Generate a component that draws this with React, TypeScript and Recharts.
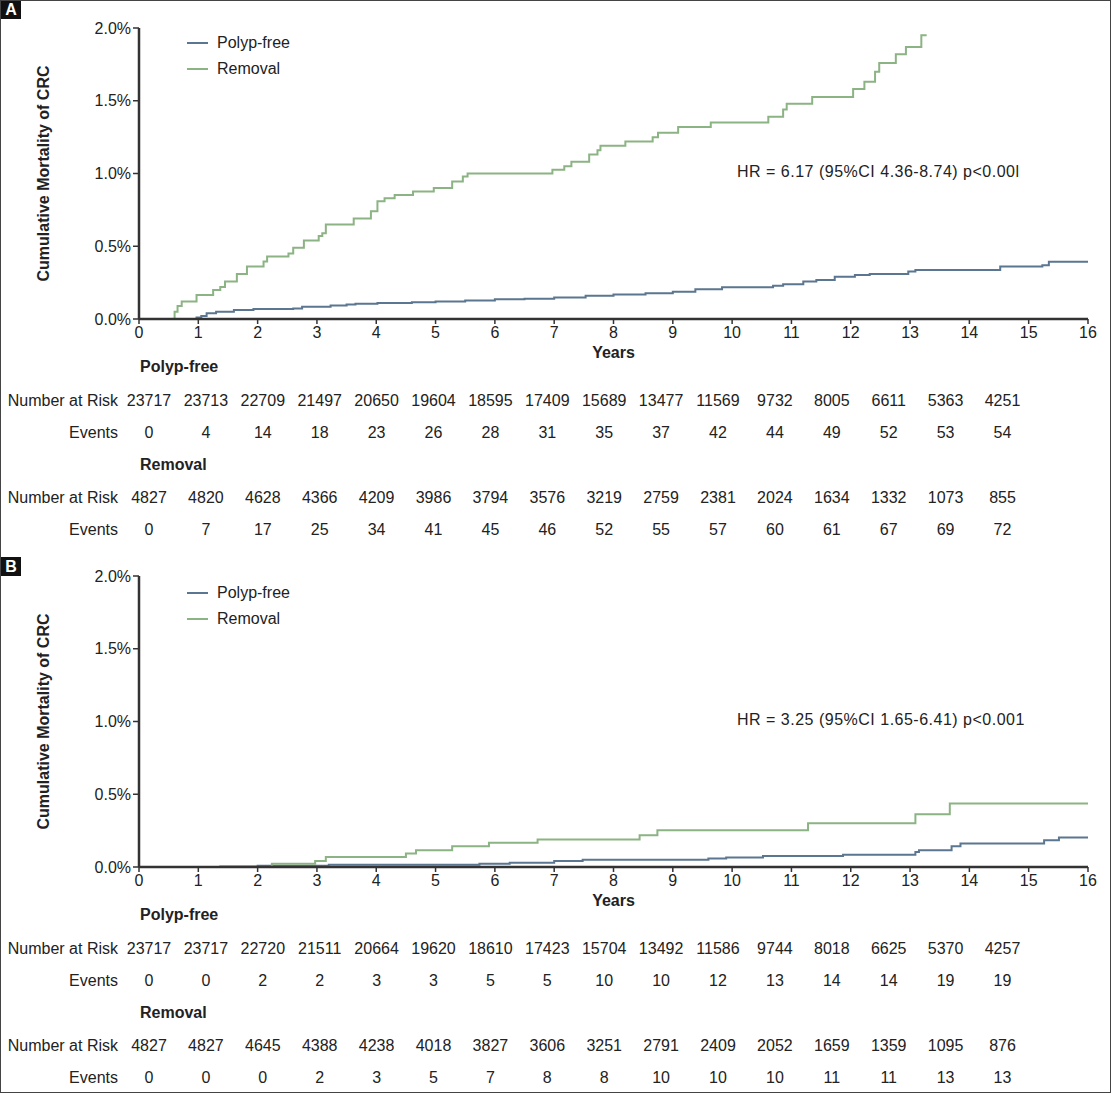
import React from 'react';
import { LineChart, Line, XAxis, YAxis } from 'recharts';

const FONT = '"Liberation Sans", Arial, sans-serif';
const BLUE = '#5b7690';
const GREEN = '#8cb384';
const INK = '#222';
const FS = 16;

const yearTicks = [0, 1, 2, 3, 4, 5, 6, 7, 8, 9, 10, 11, 12, 13, 14, 15, 16];
const pctTicks = [0, 0.5, 1, 1.5, 2];

// cumulative CRC mortality (%), step points: [years, percent]
const polypFreeA = [
  [0.49, 0], [0.97, 0.01], [1.05, 0.02], [1.14, 0.04], [1.3, 0.05], [1.6, 0.062],
  [1.93, 0.069], [2.6, 0.073], [2.75, 0.085], [3.23, 0.092], [3.5, 0.1], [3.65, 0.105],
  [4.02, 0.11], [4.6, 0.115], [5.0, 0.12], [5.5, 0.127], [6.0, 0.135], [6.5, 0.14],
  [7.0, 0.147], [7.53, 0.16], [8.0, 0.168], [8.54, 0.177], [9.0, 0.188], [9.38, 0.204],
  [9.83, 0.218], [10.69, 0.229], [10.86, 0.239], [11.2, 0.257], [11.42, 0.268],
  [11.73, 0.29], [12.07, 0.303], [12.32, 0.31], [12.97, 0.326], [13.09, 0.337],
  [14.52, 0.36], [15.23, 0.37], [15.34, 0.394], [16, 0.394],
];
const removalA = [
  [0.55, 0], [0.6, 0.05], [0.65, 0.09], [0.72, 0.12], [0.97, 0.165], [1.25, 0.2],
  [1.37, 0.22], [1.45, 0.257], [1.65, 0.31], [1.82, 0.36], [2.1, 0.395], [2.16, 0.43],
  [2.52, 0.45], [2.6, 0.49], [2.78, 0.54], [3.03, 0.57], [3.09, 0.59], [3.15, 0.65],
  [3.62, 0.69], [3.91, 0.74], [4.02, 0.81], [4.14, 0.83], [4.31, 0.853], [4.62, 0.876],
  [4.97, 0.9], [5.28, 0.945], [5.46, 0.98], [5.54, 1.0], [6.97, 1.025], [7.17, 1.05],
  [7.29, 1.08], [7.59, 1.13], [7.73, 1.16], [7.78, 1.19], [8.2, 1.22], [8.66, 1.25],
  [8.75, 1.28], [9.09, 1.32], [9.64, 1.35], [10.61, 1.39], [10.86, 1.44], [10.92, 1.48],
  [11.35, 1.525], [12.04, 1.58], [12.23, 1.63], [12.41, 1.7], [12.48, 1.76],
  [12.76, 1.82], [12.93, 1.87], [13.19, 1.95], [13.28, 1.95],
];
const polypFreeB = [
  [0, 0], [1.37, 0.004], [2.0, 0.009], [3.2, 0.016], [5.74, 0.023], [6.25, 0.03],
  [7.0, 0.041], [7.48, 0.05], [9.6, 0.058], [9.9, 0.066], [10.52, 0.075], [11.87, 0.085],
  [13.09, 0.103], [13.15, 0.115], [13.7, 0.143], [13.85, 0.161], [15.26, 0.184],
  [15.51, 0.202], [16, 0.202],
];
const removalB = [
  [0, 0], [2.24, 0.023], [2.97, 0.041], [3.15, 0.069], [4.5, 0.092], [4.67, 0.115],
  [5.28, 0.143], [5.9, 0.166], [6.72, 0.189], [8.44, 0.218], [8.74, 0.253], [11.28, 0.3],
  [13.09, 0.363], [13.67, 0.437], [16, 0.437],
];

// risk tables, one value per year 0..15
const riskPolypA = [23717, 23713, 22709, 21497, 20650, 19604, 18595, 17409, 15689, 13477, 11569, 9732, 8005, 6611, 5363, 4251];
const eventsPolypA = [0, 4, 14, 18, 23, 26, 28, 31, 35, 37, 42, 44, 49, 52, 53, 54];
const riskRemovalA = [4827, 4820, 4628, 4366, 4209, 3986, 3794, 3576, 3219, 2759, 2381, 2024, 1634, 1332, 1073, 855];
const eventsRemovalA = [0, 7, 17, 25, 34, 41, 45, 46, 52, 55, 57, 60, 61, 67, 69, 72];

const riskPolypB = [23717, 23717, 22720, 21511, 20664, 19620, 18610, 17423, 15704, 13492, 11586, 9744, 8018, 6625, 5370, 4257];
const eventsPolypB = [0, 0, 2, 2, 3, 3, 5, 5, 10, 10, 12, 13, 14, 14, 19, 19];
const riskRemovalB = [4827, 4827, 4645, 4388, 4238, 4018, 3827, 3606, 3251, 2791, 2409, 2052, 1659, 1359, 1095, 876];
const eventsRemovalB = [0, 0, 0, 2, 3, 5, 7, 8, 8, 10, 10, 10, 11, 11, 13, 13];

const toPoints = (rows: number[][]) => rows.map(([t, v]) => ({ t, v }));

const legendItems = [
  { name: 'Polyp-free', color: BLUE },
  { name: 'Removal', color: GREEN },
];

function LegendBox({ top }: { top: number }) {
  return (
    <div style={{ position: 'absolute', left: 187, top }}>
      {legendItems.map((s) => (
        <div key={s.name} style={{ display: 'flex', alignItems: 'center', height: 26 }}>
          <span style={{ display: 'inline-block', width: 21, height: 2, background: s.color, marginRight: 9 }} />
          {s.name}
        </div>
      ))}
    </div>
  );
}

const colX = (i: number) => 149 + i * 56.9;

function TableRow({ y, label, values }: { y: number; label: string; values: number[] }) {
  return (
    <>
      <div style={{ position: 'absolute', top: y - 9, right: 1111 - 118, lineHeight: '18px', whiteSpace: 'nowrap' }}>
        {label}
      </div>
      {values.map((v, i) => (
        <div
          key={i}
          style={{ position: 'absolute', top: y - 9, left: colX(i), transform: 'translateX(-50%)', lineHeight: '18px' }}
        >
          {v}
        </div>
      ))}
    </>
  );
}

function GroupTitle({ y, text }: { y: number; text: string }) {
  return (
    <div style={{ position: 'absolute', top: y - 9, left: 140, lineHeight: '18px', fontWeight: 'bold' }}>{text}</div>
  );
}

type PanelProps = {
  tag: string;
  top: number;
  polyp: number[][];
  removal: number[][];
  hr: string;
  riskPolyp: number[];
  eventsPolyp: number[];
  riskRemoval: number[];
  eventsRemoval: number[];
};

function Panel({ tag, top, polyp, removal, hr, riskPolyp, eventsPolyp, riskRemoval, eventsRemoval }: PanelProps) {
  const tickStyle = { fontSize: FS, fill: INK, fontFamily: FONT };
  return (
    <div style={{ position: 'absolute', left: 0, top, width: 1111, height: 545, fontFamily: FONT, fontSize: FS, color: INK }}>
      <div
        style={{
          position: 'absolute', left: 1, top: tag === 'A' ? 0 : 9, width: 20, height: 19, background: '#111',
          color: '#fff', fontWeight: 'bold', fontSize: 16, lineHeight: '19px', textAlign: 'center',
        }}
      >
        {tag}
      </div>
      <div style={{ position: 'absolute', left: 0, top: 0 }}>
        <LineChart width={1111} height={380} margin={{ top: 28, right: 23, bottom: 21, left: 79 }}>
          <XAxis
            type="number"
            dataKey="t"
            domain={[0, 16]}
            ticks={yearTicks}
            interval={0}
            height={40}
            tick={tickStyle}
            tickSize={5}
            tickMargin={3}
            axisLine={{ stroke: '#333', strokeWidth: 2.5 }}
            tickLine={{ stroke: '#333', strokeWidth: 1.5 }}
            label={{ value: 'Years', position: 'insideBottom', offset: 1, style: { fontWeight: 'bold', fontSize: FS, fill: INK, fontFamily: FONT } }}
          />
          <YAxis
            type="number"
            domain={[0, 2]}
            ticks={pctTicks}
            width={60}
            tick={tickStyle}
            tickSize={6}
            tickMargin={2}
            tickFormatter={(v: number) => `${v.toFixed(1)}%`}
            axisLine={{ stroke: '#333', strokeWidth: 2.5 }}
            tickLine={{ stroke: '#333', strokeWidth: 1.5 }}
            label={{
              value: 'Cumulative Mortality of CRC',
              angle: -90,
              position: 'left',
              offset: 36,
              style: { textAnchor: 'middle', fontWeight: 'bold', fontSize: FS, fill: INK, fontFamily: FONT },
            }}
          />
          <Line
            name="Polyp-free"
            data={toPoints(polyp)}
            dataKey="v"
            type="stepAfter"
            stroke={BLUE}
            strokeWidth={2}
            dot={false}
            activeDot={false}
            isAnimationActive={false}
          />
          <Line
            name="Removal"
            data={toPoints(removal)}
            dataKey="v"
            type="stepAfter"
            stroke={GREEN}
            strokeWidth={2}
            dot={false}
            activeDot={false}
            isAnimationActive={false}
          />
        </LineChart>
      </div>
      <LegendBox top={tag === 'A' ? 30 : 32} />
      <div style={{ position: 'absolute', left: 737, top: 163, lineHeight: '18px', whiteSpace: 'nowrap', letterSpacing: 0.5 }}>
        {hr}
      </div>
      <GroupTitle y={367} text="Polyp-free" />
      <TableRow y={401} label="Number at Risk" values={riskPolyp} />
      <TableRow y={433} label="Events" values={eventsPolyp} />
      <GroupTitle y={465} text="Removal" />
      <TableRow y={498} label="Number at Risk" values={riskRemoval} />
      <TableRow y={530} label="Events" values={eventsRemoval} />
    </div>
  );
}

export default function App() {
  return (
    <div style={{ position: 'absolute', left: 0, top: 0, width: 1111, height: 1093, background: '#fff' }}>
      <Panel
        tag="A"
        top={0}
        polyp={polypFreeA}
        removal={removalA}
        hr="HR = 6.17 (95%CI 4.36-8.74) p<0.00l"
        riskPolyp={riskPolypA}
        eventsPolyp={eventsPolypA}
        riskRemoval={riskRemovalA}
        eventsRemoval={eventsRemovalA}
      />
      <Panel
        tag="B"
        top={548}
        polyp={polypFreeB}
        removal={removalB}
        hr="HR = 3.25 (95%CI 1.65-6.41) p<0.001"
        riskPolyp={riskPolypB}
        eventsPolyp={eventsPolypB}
        riskRemoval={riskRemovalB}
        eventsRemoval={eventsRemovalB}
      />
      <div
        style={{
          position: 'absolute', left: 0, top: 0, width: 1111, height: 1093, boxSizing: 'border-box',
          border: '1.5px solid #444', pointerEvents: 'none',
        }}
      />
    </div>
  );
}
